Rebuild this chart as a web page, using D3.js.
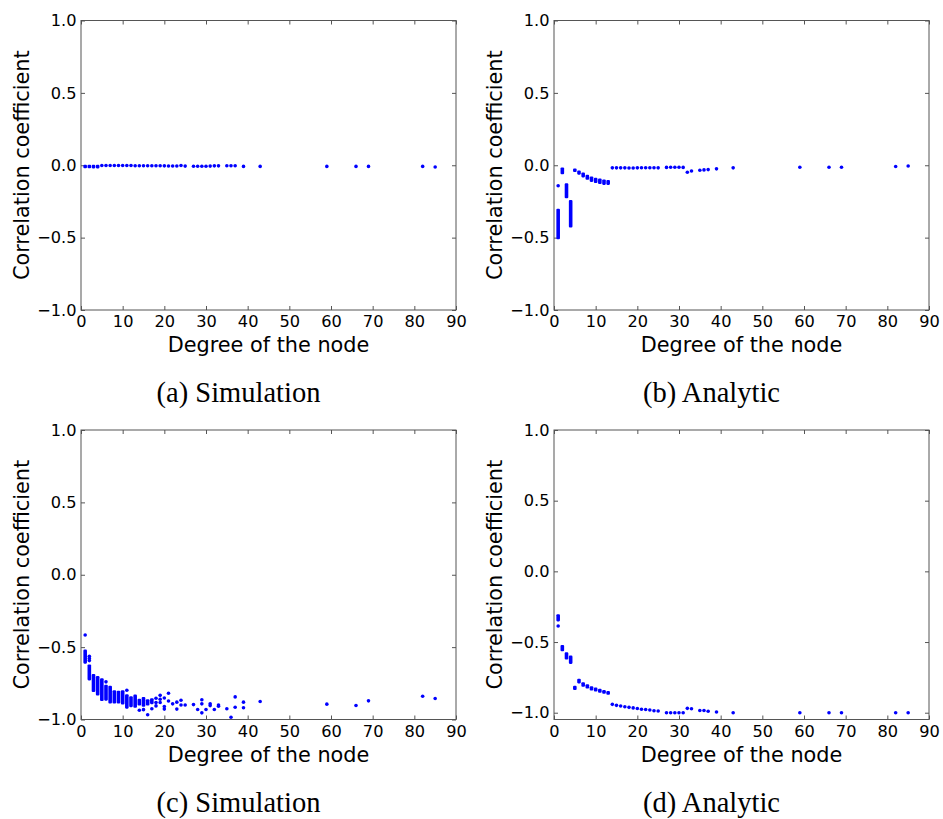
<!DOCTYPE html>
<html>
<head>
<meta charset="utf-8">
<script src="https://cdn.jsdelivr.net/npm/d3@7"></script>
<style>
  body { margin: 0; background: #fff; }
</style>
</head>
<body>
<svg id="fig" width="943" height="819"></svg>
<script>
// tick values shared by every panel
const xTicks = [0, 10, 20, 30, 40, 50, 60, 70, 80, 90];
const yTicks = [1.0, 0.5, 0.0, -0.5, -1.0];

// one entry per marker: [degree, value], or [degree, top, bottom] for a run of
// overlapping nodes of the same degree (reads as a solid vertical bar)
const simFlat = [
  [1, 0.004, 0.0], [2, 0.004, 0.0], [3, 0.003, 0.0], [4, 0.003, -0.001],
  [5, -0.002], [6, -0.002], [7, -0.002], [8, -0.002], [9, -0.002], [10, -0.002],
  [11, -0.002], [12, -0.002], [13, -0.003], [14, -0.003], [15, -0.003], [16, -0.003],
  [17, -0.003], [18, -0.003], [19, -0.003], [20, -0.004], [21, -0.005], [22, -0.005],
  [23, -0.005], [24, -0.002], [25, -0.006], [27, -0.007], [28, -0.007], [29, -0.007],
  [30, -0.007], [31, -0.006], [32, -0.004], [33, -0.004], [35, -0.003], [36, -0.003],
  [37, -0.003], [39, -0.008], [43, -0.008], [59, -0.008], [66, -0.008], [69, -0.008],
  [82, -0.008], [85, -0.012]
];

const anaFlat = [
  [1, -0.142], [1, -0.30, -0.512], [2, -0.015, -0.062], [3, -0.125, -0.228],
  [4, -0.24, -0.43], [5, -0.022, -0.044], [6, -0.037, -0.065], [7, -0.05, -0.084],
  [8, -0.066, -0.10], [9, -0.078, -0.115], [10, -0.087, -0.123], [11, -0.091, -0.13],
  [12, -0.098, -0.136], [13, -0.102, -0.136],
  [14, -0.018], [15, -0.018], [16, -0.018], [17, -0.018], [18, -0.019], [19, -0.019],
  [20, -0.018], [21, -0.017], [22, -0.017], [23, -0.017], [24, -0.017], [25, -0.018],
  [27, -0.015], [28, -0.014], [29, -0.014], [30, -0.014], [31, -0.015],
  [32, -0.048], [33, -0.04], [35, -0.035], [36, -0.032], [37, -0.03], [39, -0.025],
  [43, -0.018], [59, -0.014], [66, -0.014], [69, -0.014], [82, -0.009], [85, -0.005]
];

const simNeg = [
  [1, -0.416], [1, -0.517, -0.614],
  [2, -0.563], [2, -0.578], [2, -0.593], [2, -0.62, -0.73],
  [3, -0.685, -0.81], [4, -0.70, -0.835], [5, -0.715, -0.872],
  [6, -0.74], [6, -0.76, -0.87], [7, -0.766, -0.89], [8, -0.798, -0.89],
  [9, -0.802, -0.89], [10, -0.798, -0.897],
  [11, -0.798], [11, -0.825, -0.925], [12, -0.84, -0.915], [13, -0.828, -0.919],
  [14, -0.857, -0.904], [14, -0.936], [15, -0.844, -0.912], [15, -0.932],
  [16, -0.86, -0.904], [16, -0.967], [17, -0.853, -0.894], [17, -0.926],
  [18, -0.853], [18, -0.883], [18, -0.906],
  [19, -0.833], [19, -0.86], [19, -0.883],
  [20, -0.851], [20, -0.91], [20, -0.928],
  [21, -0.819], [21, -0.872], [22, -0.892], [23, -0.88], [23, -0.928],
  [24, -0.867], [24, -0.9], [25, -0.9], [27, -0.897], [28, -0.931],
  [29, -0.864], [29, -0.892], [29, -0.954], [30, -0.931], [31, -0.892], [31, -0.904],
  [32, -0.931], [33, -0.9], [33, -0.908], [35, -0.926], [36, -0.984],
  [37, -0.844], [37, -0.915], [39, -0.88], [39, -0.919], [43, -0.876],
  [59, -0.894], [66, -0.903], [69, -0.871], [82, -0.839], [85, -0.855]
];

const anaNeg = [
  [1, -0.303, -0.354], [1, -0.387], [2, -0.521, -0.566], [3, -0.573, -0.624],
  [4, -0.596, -0.655], [5, -0.81, -0.84], [6, -0.76, -0.793], [7, -0.784, -0.817],
  [8, -0.798, -0.829], [9, -0.812, -0.843], [10, -0.822, -0.85], [11, -0.831, -0.859],
  [12, -0.84, -0.866], [13, -0.847, -0.873],
  [14, -0.941], [15, -0.948], [16, -0.953], [17, -0.958], [18, -0.962], [19, -0.966],
  [20, -0.97], [21, -0.975], [22, -0.977], [23, -0.981], [24, -0.986], [25, -0.988],
  [27, -1.0], [28, -1.0], [29, -1.0], [30, -1.0], [31, -1.0],
  [32, -0.969], [33, -0.972], [35, -0.984], [36, -0.984], [37, -0.99], [39, -0.995],
  [43, -1.0], [59, -1.0], [66, -1.0], [69, -1.0], [82, -1.0], [85, -1.0]
];

const captions = ["(a) Simulation", "(b) Analytic", "(c) Simulation", "(d) Analytic"];

const svg = d3.select("#fig");
svg.append("rect").attr("width", 943).attr("height", 819).attr("fill", "#fff");

const width = 375, height = 289.5;
const r = 1.8;
const sans = "'DejaVu Sans', sans-serif";

const panels = [
  {data: simFlat, left: 81, top: 20.5, yMin: -1},
  {data: anaFlat, left: 554, top: 20.5, yMin: -1},
  {data: simNeg, left: 81, top: 430, yMin: -1},
  {data: anaNeg, left: 554, top: 430, yMin: -1.048}
];

panels.forEach((p, i) => drawPanel(p, captions[i]));

function drawPanel(p, caption) {
  const g = svg.append("g").attr("transform", `translate(${p.left},${p.top})`);

  const x = d3.scaleLinear().domain([0, 90]).range([0, width]);
  const y = d3.scaleLinear().domain([p.yMin, 1]).range([height, 0]);

  // ticks point inward on all four sides
  const bottom = g.append("g").attr("transform", `translate(0,${height})`)
    .call(d3.axisBottom(x).tickValues(xTicks).tickSizeInner(-4).tickSizeOuter(0).tickPadding(5.5).tickFormat(d3.format("d")));
  const top = g.append("g")
    .call(d3.axisTop(x).tickValues(xTicks).tickSizeInner(-4).tickSizeOuter(0).tickFormat(""));
  const left = g.append("g")
    .call(d3.axisLeft(y).tickValues(yTicks).tickSizeInner(-4).tickSizeOuter(0).tickPadding(4.5).tickFormat(d3.format(".1f")));
  const right = g.append("g").attr("transform", `translate(${width},0)`)
    .call(d3.axisRight(y).tickValues(yTicks).tickSizeInner(-4).tickSizeOuter(0).tickFormat(""));

  [bottom, top, left, right].forEach(a => {
    a.select(".domain").remove();
    a.selectAll(".tick line").attr("stroke", "#555");
    a.selectAll("text").style("font-family", sans).style("font-size", "16.2px").attr("fill", "#000");
  });

  g.append("rect")
    .attr("width", width).attr("height", height)
    .attr("fill", "none").attr("stroke", "#555").attr("stroke-width", 1);

  // markers
  const marks = g.append("g").attr("fill", "#0000ff");
  marks.selectAll("circle")
    .data(p.data.filter(d => d.length === 2))
    .enter().append("circle")
    .attr("cx", d => x(d[0]))
    .attr("cy", d => y(d[1]))
    .attr("r", r);
  marks.selectAll("rect")
    .data(p.data.filter(d => d.length === 3))
    .enter().append("rect")
    .attr("x", d => x(d[0]) - r)
    .attr("y", d => y(Math.max(d[1], d[2])))
    .attr("width", 2 * r)
    .attr("height", d => Math.max(2 * r, y(Math.min(d[1], d[2])) - y(Math.max(d[1], d[2]))))
    .attr("rx", r * 0.6);

  // axis labels
  g.append("text")
    .attr("x", width / 2).attr("y", height + 42)
    .attr("text-anchor", "middle")
    .style("font-family", sans).style("font-size", "20.8px")
    .text("Degree of the node");
  g.append("text")
    .attr("transform", `translate(-52,${height / 2}) rotate(-90)`)
    .attr("text-anchor", "middle")
    .style("font-family", sans).style("font-size", "20.8px")
    .text("Correlation coefficient");

  // sub-figure caption
  g.append("text")
    .attr("x", width / 2 - 30).attr("y", height + 92)
    .attr("text-anchor", "middle")
    .style("font-family", "'Liberation Serif', 'Times New Roman', serif")
    .style("font-size", "28.5px")
    .text(caption);
}
</script>
</body>
</html>
